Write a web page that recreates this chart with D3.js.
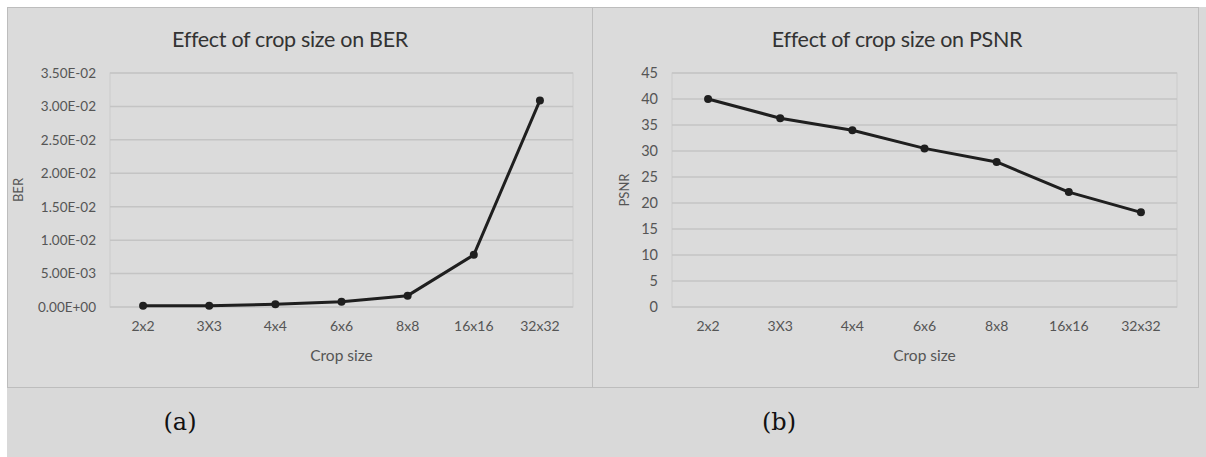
<!DOCTYPE html>
<html>
<head>
<meta charset="utf-8">
<script src="https://cdn.jsdelivr.net/npm/d3@7"></script>
<style>
  body { margin: 0; background: #fff; }
</style>
</head>
<body>
<svg id="chart" width="1206" height="457"></svg>
<script>
// data
const cropSizes = ["2x2", "3X3", "4x4", "6x6", "8x8", "16x16", "32x32"];
const berValues = [0.0002, 0.0002, 0.0004, 0.0008, 0.0017, 0.0078, 0.0309];
const psnrValues = [40, 36.3, 34, 30.5, 27.9, 22.1, 18.2];
const berTicks = [0, 0.005, 0.01, 0.015, 0.02, 0.025, 0.03, 0.035];
const psnrTicks = [0, 5, 10, 15, 20, 25, 30, 35, 40, 45];

const sans = "Lato, 'Open Sans', sans-serif";
const svg = d3.select("#chart");

// outer gray backdrop
svg.append("rect")
  .attr("x", 7).attr("y", 7)
  .attr("width", 1199).attr("height", 450)
  .attr("fill", "#d9d9d9");

function drawPanel(opts) {
  const g = svg.append("g");

  // chart box
  g.append("rect")
    .attr("x", opts.box[0] + 0.5).attr("y", opts.box[1] + 0.5)
    .attr("width", opts.box[2]).attr("height", opts.box[3])
    .attr("fill", "#dbdbdb")
    .attr("stroke", "#bdbdbd");

  const x = d3.scaleBand().domain(cropSizes).range([opts.left, opts.right]);
  const y = d3.scaleLinear().domain(opts.domain).range([307, 73]);

  // plot area border
  g.append("rect")
    .attr("x", opts.left).attr("y", 73)
    .attr("width", opts.right - opts.left).attr("height", 307 - 73)
    .attr("fill", "none")
    .attr("stroke", "#cbcbcb");

  // gridlines
  g.append("g")
    .selectAll("line")
    .data(opts.ticks)
    .enter().append("line")
    .attr("x1", opts.left).attr("x2", opts.right)
    .attr("y1", d => y(d)).attr("y2", d => y(d))
    .attr("stroke", "#c4c4c4")
    .attr("stroke-width", 1.5);

  // y axis labels
  const yAxis = g.append("g")
    .attr("transform", "translate(" + opts.left + ",0)")
    .call(d3.axisLeft(y).tickValues(opts.ticks).tickFormat(opts.fmt).tickSize(0).tickPadding(opts.pad));
  yAxis.select(".domain").remove();
  yAxis.selectAll("text")
    .attr("font-size", opts.yFont)
    .attr("fill", "#555")
    .attr("font-family", sans);

  // x axis labels
  const xAxis = g.append("g")
    .attr("transform", "translate(0,307)")
    .call(d3.axisBottom(x).tickSize(0).tickPadding(14));
  xAxis.select(".domain").remove();
  xAxis.selectAll("text").attr("font-size", 14).attr("fill", "#555").attr("font-family", sans);

  // titles
  g.append("text")
    .attr("x", opts.titleX).attr("y", 47)
    .attr("text-anchor", "middle")
    .attr("font-family", sans)
    .attr("font-size", 21.5)
    .attr("letter-spacing", -0.3)
    .attr("fill", "#333")
    .text(opts.title);

  g.append("text")
    .attr("x", (opts.left + opts.right) / 2).attr("y", 361)
    .attr("text-anchor", "middle")
    .attr("font-family", sans)
    .attr("font-size", 15.5)
    .attr("fill", "#555")
    .text("Crop size");

  g.append("text")
    .attr("transform", "translate(" + opts.yLabelX + ",190) rotate(-90)")
    .attr("text-anchor", "middle")
    .attr("font-family", sans)
    .attr("font-size", 13)
    .attr("fill", "#555")
    .text(opts.yLabel);

  // series
  const pts = cropSizes.map((c, i) => [x(c) + x.bandwidth() / 2, y(opts.values[i])]);
  g.append("path")
    .attr("d", d3.line()(pts))
    .attr("fill", "none")
    .attr("stroke", "#1f1f1f")
    .attr("stroke-width", 3)
    .attr("stroke-linejoin", "round");

  g.append("g")
    .selectAll("circle")
    .data(pts)
    .enter().append("circle")
    .attr("cx", d => d[0]).attr("cy", d => d[1])
    .attr("r", 4)
    .attr("fill", "#1f1f1f");

  // sub caption
  g.append("text")
    .attr("x", opts.capX).attr("y", 430)
    .attr("text-anchor", "middle")
    .attr("font-family", "'DejaVu Serif', 'Liberation Serif', serif")
    .attr("font-size", 24)
    .attr("fill", "#111")
    .text(opts.caption);
}

drawPanel({
  box: [7, 7, 585, 380],
  left: 110, right: 573,
  domain: [0, 0.035],
  ticks: berTicks,
  fmt: d => d === 0 ? "0.00E+00" : d3.format(".2e")(d).replace("e-", "E-0"),
  pad: 14,
  yFont: 13.5,
  values: berValues,
  title: "Effect of crop size on BER",
  titleX: 290,
  yLabel: "BER",
  yLabelX: 23,
  caption: "(a)",
  capX: 180
});

drawPanel({
  box: [592, 7, 606, 380],
  left: 672, right: 1177,
  domain: [0, 45],
  ticks: psnrTicks,
  fmt: d3.format("d"),
  pad: 14,
  yFont: 14.5,
  values: psnrValues,
  title: "Effect of crop size on PSNR",
  titleX: 897,
  yLabel: "PSNR",
  yLabelX: 629,
  caption: "(b)",
  capX: 779
});
</script>
</body>
</html>
